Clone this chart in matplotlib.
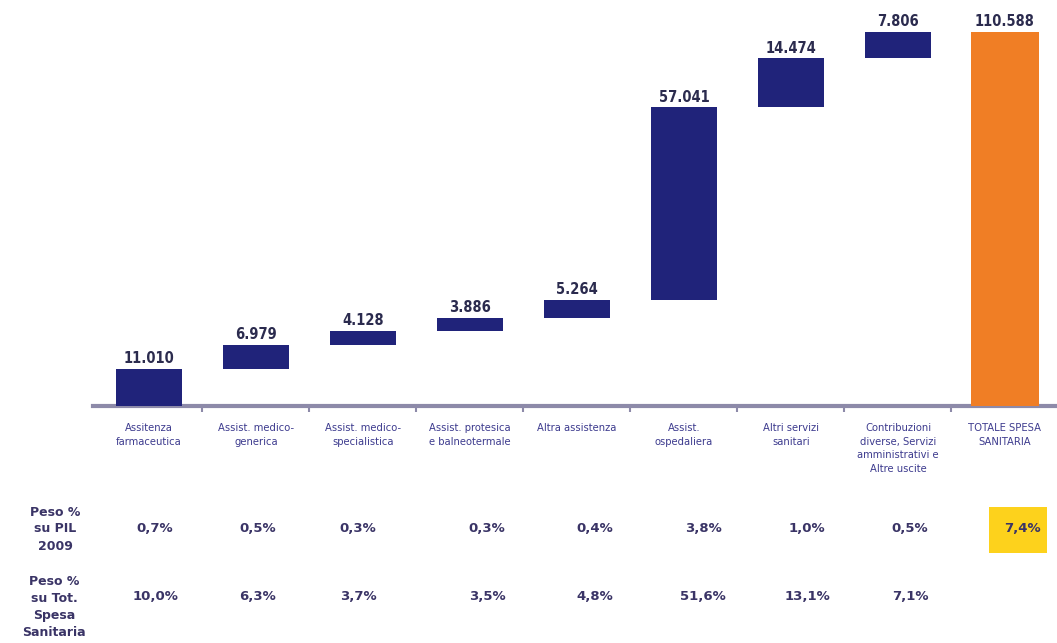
import matplotlib.pyplot as plt
import matplotlib.transforms as mtransforms
from matplotlib.patches import Rectangle

# Spesa sanitaria per funzione (milioni di euro)
categorie = [
    'Assitenza\nfarmaceutica',
    'Assist. medico-\ngenerica',
    'Assist. medico-\nspecialistica',
    'Assist. protesica\ne balneotermale',
    'Altra assistenza',
    'Assist.\nospedaliera',
    'Altri servizi\nsanitari',
    'Contribuzioni\ndiverse, Servizi\namministrativi e\nAltre uscite',
    'TOTALE SPESA\nSANITARIA',
]
valori = [11010, 6979, 4128, 3886, 5264, 57041, 14474, 7806]
totale = 110588
etichette_valori = ['11.010', '6.979', '4.128', '3.886', '5.264',
                    '57.041', '14.474', '7.806', '110.588']

peso_pil = ['0,7%', '0,5%', '0,3%', '0,3%', '0,4%', '3,8%', '1,0%', '0,5%', '7,4%']
peso_tot = ['10,0%', '6,3%', '3,7%', '3,5%', '4,8%', '51,6%', '13,1%', '7,1%']

NAVY = '#20237a'
ORANGE = '#f07e25'
YELLOW = '#fdd21c'
TEXT = '#3a3466'
W, H = 1057, 643

# colonne della tabella (pixel)
col_x = [155, 258, 358, 487, 595, 703, 807, 910, 1022]

fig = plt.figure(figsize=(W / 100, H / 100), dpi=100)
ax = fig.add_axes([93 / W, 1 - 406 / H, (W - 93) / W, 406 / H])

# cascata: ogni barra parte dalla cima della precedente
basi = []
cum = 0
for v in valori:
    basi.append(cum)
    cum += v

x = list(range(len(categorie)))
ax.bar(x[:-1], valori, bottom=basi, width=0.62, color=NAVY, zorder=3)
ax.bar(x[-1], totale, width=0.64, color=ORANGE, zorder=3)

cime = [b + v for b, v in zip(basi, valori)] + [totale]
for xi, top, lab in zip(x, cime, etichette_valori):
    ax.annotate(lab, (xi, top), xytext=(0, 2), textcoords='offset points',
                ha='center', va='bottom', fontsize=10.5, fontweight='bold',
                fontstretch='condensed', family='DejaVu Sans', color='#2b2b4e')

ax.set_xlim(-0.523, 8.486)
ax.set_ylim(0, totale * 406 / 374)

for s in ['top', 'right', 'left']:
    ax.spines[s].set_visible(False)
ax.spines['bottom'].set_color('#8d8aa9')
ax.spines['bottom'].set_linewidth(3)
ax.set_yticks([])
ax.set_xticks([i + 0.5 for i in x[:-1]])
ax.set_xticklabels([])
ax.tick_params(axis='x', length=4, width=1.5, color='#8d8aa9', direction='out')

# etichette delle categorie sotto l'asse
trans = mtransforms.blended_transform_factory(ax.transData, fig.transFigure)
for xi, cat in zip(x, categorie):
    fig.text(xi, 1 - 423 / H, cat, transform=trans, ha='center', va='top',
             fontsize=8, fontstretch='condensed', color='#3d3b8e', linespacing=1.45)

# tabella dei pesi percentuali
fig.text(55 / W, 1 - 529 / H, 'Peso %\nsu PIL\n2009', ha='center', va='center',
         fontsize=9, fontweight='bold', color=TEXT, linespacing=1.4)
fig.text(54 / W, 1 - 607 / H, 'Peso %\nsu Tot.\nSpesa\nSanitaria', ha='center',
         va='center', fontsize=9, fontweight='bold', color=TEXT, linespacing=1.4)

for cx, p in zip(col_x, peso_pil):
    fig.text(cx / W, 1 - 529 / H, p, ha='center', va='center',
             fontsize=9.5, fontweight='bold', color=TEXT)
for cx, p in zip(col_x, peso_tot):
    fig.text(cx / W, 1 - 597 / H, p, ha='center', va='center',
             fontsize=9.5, fontweight='bold', color=TEXT)

# riquadro giallo sul totale
fig.patches.append(Rectangle((989 / W, 1 - 553 / H), 58 / W, 46 / H,
                             transform=fig.transFigure, facecolor=YELLOW,
                             edgecolor='none', zorder=0))

fig.savefig('out.png', dpi=100)
